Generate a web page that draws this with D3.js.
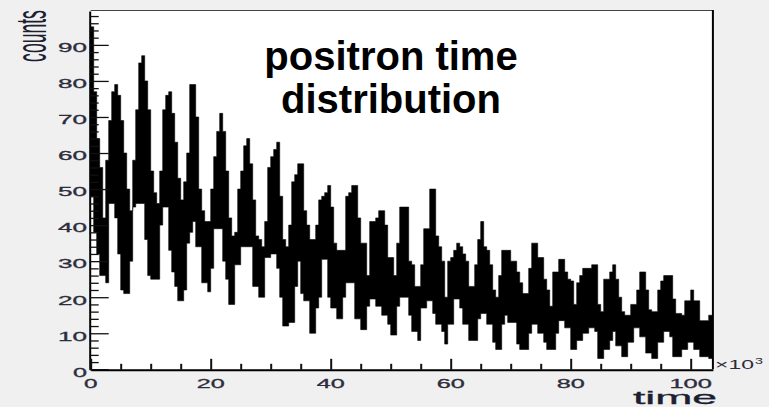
<!DOCTYPE html>
<html lang="en">
<head>
<meta charset="utf-8">
<script src="https://d3js.org/d3.v7.min.js"></script>
<style>
  html, body { margin: 0; padding: 0; background: #f0f0f0; }
  svg { display: block; }
</style>
</head>
<body>
<script>
// histogram band, bins of 0.5 (x10^3) starting at t = 0
var binWidth = 0.5;

// upper edge of the black band, one value per bin
var upper = [
  95, 77, 64, 56, 42, 58, 69, 77, 79, 76,
  69, 60, 50, 44, 58, 72, 85, 87, 80, 72,
  55, 49, 46, 55, 72, 76, 77, 71, 63, 53,
  47, 52, 60, 79, 79, 70, 50, 44, 41, 41,
  50, 59, 66, 71, 66, 55, 42, 37, 38, 50,
  55, 62, 64, 57, 47, 37, 36, 34, 41, 56,
  59, 61, 63, 48, 36, 34, 40, 52, 54, 57,
  57, 44, 40, 36, 36, 40, 47, 48, 49, 51,
  45, 35, 33, 33, 33, 48, 49, 51, 51, 42,
  35, 35, 26, 41, 41, 42, 44, 44, 40, 31,
  31, 26, 35, 45, 45, 45, 30, 29, 23, 23,
  29, 39, 39, 50, 50, 37, 34, 30, 20, 30,
  31, 33, 35, 34, 32, 30, 23, 23, 29, 36,
  41, 34, 33, 29, 22, 20, 26, 33, 33, 33,
  30, 30, 27, 24, 21, 21, 28, 35, 35, 31,
  31, 25, 22, 17.5, 27, 27, 30.5, 30.5, 27, 25,
  24.5, 18, 24, 26, 28, 28, 28, 29, 29, 18,
  16, 25, 25, 27, 29, 25, 20, 16, 15, 15,
  18, 18, 22, 27, 27, 22, 16.5, 16, 16, 22,
  24.5, 26, 26, 26, 19.5, 15.5, 15.5, 15, 19, 19,
  22, 19, 19, 13.5, 13.5, 13.5, 15, 15
];

// lower edge of the black band
var lower = [
  48, 38, 32, 26, 26, 24, 46, 46, 42, 32,
  22, 21, 21, 30, 45, 46, 46, 46, 36, 26,
  25, 25, 25, 40, 45, 45, 33, 27, 23, 19,
  19, 22, 35, 38, 41, 34, 34, 24, 24, 21.5,
  28, 39, 39, 39, 30, 25, 18, 18, 29, 29,
  34, 34, 34, 34, 23, 23, 20, 20, 31, 31,
  32, 32, 28, 20, 12, 12, 13, 13, 23, 30,
  21, 19, 19, 10, 10, 17, 20, 30.5, 30.5, 20,
  17, 17, 14, 14, 20, 24, 24, 24, 14, 14,
  11, 11, 17.5, 19.5, 19.5, 17.5, 17.5, 15, 15, 12.5,
  9.5, 9.5, 17.5, 20, 20, 20, 15, 10.5, 10.5, 8,
  17, 17, 19, 19, 15.5, 12.5, 12.5, 10.5, 7, 12.5,
  12.5, 19.5, 19.5, 17, 12.5, 12.5, 8, 8, 8, 14,
  15.5, 15.5, 12.5, 12.5, 7.5, 5.5, 5.5, 12.5, 15, 13,
  13, 13, 7, 5.5, 5.5, 5.5, 10, 12.5, 12.5, 10,
  10, 7.5, 5.5, 5.5, 5.5, 10, 13.5, 13.5, 11.5, 11.5,
  5.5, 5.5, 8, 8, 10, 10, 11.5, 11.5, 10.5, 3,
  3, 5.5, 5.5, 8, 10.5, 6.5, 6.5, 3.5, 3.5, 7.5,
  7.5, 11.5, 11.5, 9, 9, 4.5, 4.5, 3, 3, 7.5,
  7.5, 10.5, 10.5, 9, 3.5, 3.5, 3.5, 5.5, 5.5, 7.5,
  7.5, 5.5, 5.5, 3.5, 3.5, 3.5, 3, 3
];

var xLabels = ["0", "20", "40", "60", "80", "100"];
var yLabels = ["0", "10", "20", "30", "40", "50", "60", "70", "80", "90"];
var titleLines = ["positron time", "distribution"];
var xDomain = [0, 103.7];
var yDomain = [0, 99.4];

var width = 769, height = 407;

var svg = d3.select("body").append("svg")
            .attr("width", width)
            .attr("height", height);

svg.append("rect")
   .attr("width", width).attr("height", height)
   .attr("fill", "#f0f0f0");

var x = d3.scaleLinear().domain(xDomain).range([90.7, 712.9]);
var y = d3.scaleLinear().domain(yDomain).range([369.3, 11]);

// white pad
svg.append("rect")
   .attr("x", x(0) - 1).attr("y", y(yDomain[1]))
   .attr("width", x(xDomain[1]) - x(0) + 1)
   .attr("height", y(0) - y(yDomain[1]))
   .attr("fill", "#ffffff");

svg.append("clipPath").attr("id", "pad")
   .append("rect")
   .attr("x", x(0)).attr("y", y(yDomain[1]))
   .attr("width", x(xDomain[1]) - x(0))
   .attr("height", y(0) - y(yDomain[1]));

// build bins, the last edge repeats the last bin
var bins = upper.map(function(u, i) {
    return { t: i * binWidth, hi: u, lo: lower[i] };
});
var last = bins[bins.length - 1];
bins.push({ t: bins.length * binWidth, hi: last.hi, lo: last.lo });

var band = d3.area()
    .curve(d3.curveStepAfter)
    .x(function(d) { return x(d.t); })
    .y0(function(d) { return y(d.lo); })
    .y1(function(d) { return y(d.hi); });

svg.append("path")
   .datum(bins)
   .attr("clip-path", "url(#pad)")
   .attr("d", band)
   .attr("fill", "#000000")
   .attr("stroke", "#000000")
   .attr("stroke-width", 0.6);

// frame: top thin, right + axes thicker
svg.append("line")
   .attr("x1", x(0)).attr("x2", x(xDomain[1]))
   .attr("y1", y(yDomain[1]) - 0.5).attr("y2", y(yDomain[1]) - 0.5)
   .attr("stroke", "#444").attr("stroke-width", 1.2);
svg.append("line")
   .attr("x1", x(xDomain[1])).attr("x2", x(xDomain[1]))
   .attr("y1", y(yDomain[1]) - 1).attr("y2", y(0))
   .attr("stroke", "#000").attr("stroke-width", 2);

// y axis, ticks drawn inward
var yAxis = d3.axisLeft(y)
    .tickValues(d3.range(0, 99, 2))
    .tickSize(0)
    .tickFormat("");
var gy = svg.append("g").attr("transform", "translate(" + (x(0) - 1) + ",0)").call(yAxis);
gy.select(".domain").attr("stroke", "#000").attr("stroke-width", 2);
gy.selectAll(".tick line")
  .attr("x2", function(d) { return d % 10 === 0 ? 19 : 9; })
  .attr("stroke", "#111").attr("stroke-width", 1.3);

// x axis, ticks drawn inward
var xAxis = d3.axisBottom(x)
    .tickValues(d3.range(0, 101, 5))
    .tickSize(0)
    .tickFormat("");
var gx = svg.append("g").attr("transform", "translate(0," + (y(0) + 0.5) + ")").call(xAxis);
gx.select(".domain").attr("stroke", "#000").attr("stroke-width", 2);
gx.selectAll(".tick line")
  .attr("y2", function(d) { return d % 20 === 0 ? -11 : -6; })
  .attr("stroke", "#111").attr("stroke-width", 2);

// tick labels (wide, stretched look)
var labelFont = "'Liberation Sans', Arial, sans-serif";
svg.selectAll(".ylab").data(yLabels).enter().append("text")
   .attr("class", "ylab")
   .attr("x", 87)
   .attr("y", function(d) { return y(+d) + 7.3; })
   .attr("text-anchor", "end")
   .attr("font-family", labelFont)
   .attr("font-size", 12.5)
   .attr("stroke", "#2c2c3c").attr("stroke-width", 0.3)
   .attr("fill", "#2c2c3c")
   .attr("textLength", function(d) { return d.length * 15 - 1; })
   .attr("lengthAdjust", "spacingAndGlyphs")
   .text(function(d) { return d; });

svg.selectAll(".xlab").data(xLabels).enter().append("text")
   .attr("class", "xlab")
   .attr("x", function(d) { return x(+d); })
   .attr("y", 387.5)
   .attr("text-anchor", "middle")
   .attr("font-family", labelFont)
   .attr("font-size", 12.5)
   .attr("stroke", "#2c2c3c").attr("stroke-width", 0.3)
   .attr("fill", "#2c2c3c")
   .attr("textLength", function(d) { return d.length * 14.5 - 1; })
   .attr("lengthAdjust", "spacingAndGlyphs")
   .text(function(d) { return d; });

// exponent
svg.append("text")
   .attr("x", 715).attr("y", 368.5)
   .attr("font-family", labelFont)
   .attr("font-size", 12.5)
   .attr("fill", "#2c2c3c")
   .attr("textLength", 39)
   .attr("lengthAdjust", "spacingAndGlyphs")
   .text("\u00d710");
svg.append("text")
   .attr("x", 755).attr("y", 364)
   .attr("font-family", labelFont)
   .attr("font-size", 9)
   .attr("fill", "#2c2c3c")
   .attr("textLength", 8)
   .attr("lengthAdjust", "spacingAndGlyphs")
   .text("3");

// axis titles
svg.append("text")
   .attr("x", 717).attr("y", 403.5)
   .attr("text-anchor", "end")
   .attr("font-family", labelFont)
   .attr("font-size", 18)
   .attr("fill", "#1e1e33")
   .attr("stroke", "#1e1e33").attr("stroke-width", 0.3)
   .attr("textLength", 84)
   .attr("lengthAdjust", "spacingAndGlyphs")
   .text("time");

// tall, squeezed y title: scale instead of textLength
svg.append("text")
   .attr("transform", "translate(46,36) rotate(-90) scale(0.88,2.1)")
   .attr("text-anchor", "middle")
   .attr("font-family", labelFont)
   .attr("font-size", 20)
   .attr("fill", "#1e1e33")
   .text("counts");

// title
svg.selectAll(".title").data(titleLines).enter().append("text")
   .attr("class", "title")
   .attr("x", 391)
   .attr("y", function(d, i) { return 70 + i * 43; })
   .attr("text-anchor", "middle")
   .attr("font-family", labelFont)
   .attr("font-weight", "bold")
   .attr("font-size", 40)
   .attr("fill", "#000")
   .text(function(d) { return d; });
</script>
</body>
</html>
